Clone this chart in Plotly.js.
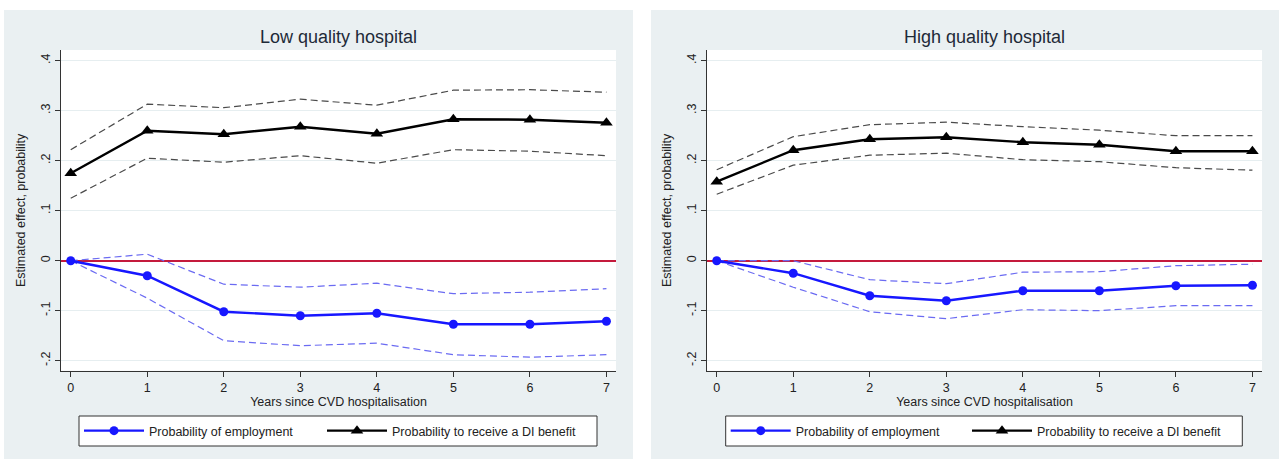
<!DOCTYPE html>
<html>
<head>
<meta charset="utf-8">
<script src="https://cdn.plot.ly/plotly-3.0.1.min.js"></script>
<style>
  html, body { margin: 0; padding: 0; background: #ffffff; }
  #chart { width: 1285px; height: 462px; }
</style>
</head>
<body>
<div id="chart"></div>
<script>
// Years since hospitalisation
const years = [0, 1, 2, 3, 4, 5, 6, 7];

// Low quality hospital: employment effect and 95% bounds
const lowEmp   = [0, -0.030, -0.102, -0.110, -0.105, -0.127, -0.127, -0.121];
const lowEmpHi = [0,  0.013, -0.047, -0.053, -0.045, -0.066, -0.063, -0.056];
const lowEmpLo = [0, -0.075, -0.160, -0.170, -0.165, -0.188, -0.193, -0.188];
// Low quality hospital: DI benefit effect and 95% bounds
const lowDI   = [0.175, 0.260, 0.253, 0.268, 0.254, 0.283, 0.282, 0.276];
const lowDIHi = [0.222, 0.313, 0.306, 0.323, 0.311, 0.341, 0.342, 0.337];
const lowDILo = [0.125, 0.205, 0.197, 0.210, 0.195, 0.222, 0.219, 0.210];

// High quality hospital: employment effect and 95% bounds
const highEmp   = [0, -0.025, -0.070, -0.080, -0.060, -0.060, -0.050, -0.049];
const highEmpHi = [0,  0.000, -0.038, -0.046, -0.023, -0.022, -0.010, -0.007];
const highEmpLo = [0, -0.053, -0.102, -0.116, -0.098, -0.100, -0.090, -0.090];
// High quality hospital: DI benefit effect and 95% bounds
const highDI   = [0.158, 0.221, 0.243, 0.247, 0.237, 0.232, 0.219, 0.219];
const highDIHi = [0.182, 0.248, 0.272, 0.277, 0.268, 0.261, 0.250, 0.250];
const highDILo = [0.133, 0.191, 0.211, 0.215, 0.202, 0.198, 0.186, 0.181];

const panelTitles = ['Low quality hospital', 'High quality hospital'];
const seriesNames = ['Probability of employment', 'Probability to receive a DI benefit'];
const yTickVals = [-0.2, -0.1, 0, 0.1, 0.2, 0.3, 0.4];
const yTickText = ['-.2', '-.1', '0', '.1', '.2', '.3', '.4'];
const xTitle = 'Years since CVD hospitalisation';
const yTitle = 'Estimated effect, probability';

const W = 1285, H = 462;
const FONT = 'Liberation Sans, Arial, Helvetica, sans-serif';
const BLUE = '#1717ff', BLUE_CI = '#6b6bf2', BLACK = '#000000', GREY_CI = '#4a4a4a';
const PANEL_BG = '#eaf0f2', GRID = '#e6eef0', RED = '#c41a3c';
const TXT = '#222222';

const px = v => v / W;
const py = v => (H - v) / H;

// one panel: dashed bounds, then the two estimate lines (each with its own legend)
function panelTraces(emp, empHi, empLo, di, diHi, diLo, xa, ya, legEmp, legDI) {
  const ci = (y, color) => ({
    x: years, y: y, xaxis: xa, yaxis: ya, type: 'scatter', mode: 'lines',
    line: { color: color, width: 1.2, dash: '7px,4px' },
    showlegend: false, hoverinfo: 'skip'
  });
  return [
    ci(empHi, BLUE_CI), ci(empLo, BLUE_CI),
    ci(diHi, GREY_CI), ci(diLo, GREY_CI),
    {
      x: years, y: emp, xaxis: xa, yaxis: ya, type: 'scatter', mode: 'lines+markers',
      name: seriesNames[0], legend: legEmp,
      line: { color: BLUE, width: 2.4 },
      marker: { symbol: 'circle', size: 9, color: BLUE }
    },
    {
      x: years, y: di, xaxis: xa, yaxis: ya, type: 'scatter', mode: 'lines+markers',
      name: seriesNames[1], legend: legDI,
      line: { color: BLACK, width: 2.4 },
      marker: { symbol: 'triangle-up', size: 11, color: BLACK }
    }
  ];
}

const data = [
  ...panelTraces(lowEmp, lowEmpHi, lowEmpLo, lowDI, lowDIHi, lowDILo, 'x', 'y', 'legend', 'legend3'),
  ...panelTraces(highEmp, highEmpHi, highEmpLo, highDI, highDIHi, highDILo, 'x2', 'y2', 'legend2', 'legend4')
];

const xAxisBase = {
  range: [-0.127, 7.125], tickvals: years, ticktext: years.map(String),
  showline: true, linecolor: '#333', linewidth: 1,
  ticks: 'outside', ticklen: 5, tickcolor: '#333', tickwidth: 1,
  showgrid: false, zeroline: false, automargin: false,
  tickfont: { family: FONT, size: 12.5, color: TXT },
  title: { text: xTitle, font: { family: FONT, size: 12.5, color: TXT }, standoff: 2 },
  fixedrange: true
};
const yAxisBase = {
  range: [-0.22, 0.4214], tickvals: yTickVals, ticktext: yTickText, tickangle: -90,
  showline: true, linecolor: '#333', linewidth: 1,
  ticks: 'outside', ticklen: 5, tickcolor: '#333', tickwidth: 1,
  showgrid: true, gridcolor: GRID, gridwidth: 1.5,
  zeroline: true, zerolinecolor: RED, zerolinewidth: 2,
  automargin: false,
  tickfont: { family: FONT, size: 12.5, color: TXT },
  title: { text: yTitle, font: { family: FONT, size: 12.5, color: TXT }, standoff: 10 },
  domain: [py(370.7), py(50)],
  fixedrange: true
};

const legendBase = {
  orientation: 'h', bgcolor: 'rgba(0,0,0,0)', borderwidth: 0,
  font: { family: FONT, size: 12.5, color: TXT },
  itemwidth: 60,
  yanchor: 'top', y: py(416), xanchor: 'left', traceorder: 'normal'
};

// legend frames
const frame = (x0, x1) => ({
  type: 'rect', xref: 'paper', yref: 'paper', x0: px(x0), x1: px(x1), y0: py(446), y1: py(416),
  fillcolor: '#ffffff', line: { color: '#333', width: 1 }, layer: 'below'
});

const layout = {
  width: W, height: H, autosize: false,
  margin: { l: 0, r: 0, t: 0, b: 0, pad: 0 },
  paper_bgcolor: '#ffffff', plot_bgcolor: '#ffffff',
  font: { family: FONT },
  xaxis: Object.assign({}, xAxisBase, { domain: [px(61), px(616)], anchor: 'y' }),
  yaxis: Object.assign({}, yAxisBase, { anchor: 'x' }),
  xaxis2: Object.assign({}, xAxisBase, { domain: [px(707), px(1262)], anchor: 'y2' }),
  yaxis2: Object.assign({}, yAxisBase, { anchor: 'x2' }),
  legend: Object.assign({}, legendBase, { x: px(79) }),
  legend3: Object.assign({}, legendBase, { x: px(322) }),
  legend2: Object.assign({}, legendBase, { x: px(725.7) }),
  legend4: Object.assign({}, legendBase, { x: px(967) }),
  shapes: [
    // panel backgrounds
    { type: 'rect', xref: 'paper', yref: 'paper', x0: px(4), x1: px(633), y0: py(459), y1: py(10),
      fillcolor: PANEL_BG, line: { width: 0 }, layer: 'below' },
    { type: 'rect', xref: 'paper', yref: 'paper', x0: px(651), x1: px(1279), y0: py(459), y1: py(10),
      fillcolor: PANEL_BG, line: { width: 0 }, layer: 'below' },
    // white plot regions
    { type: 'rect', xref: 'paper', yref: 'paper', x0: px(61), x1: px(616), y0: py(370.7), y1: py(50),
      fillcolor: '#ffffff', line: { width: 0 }, layer: 'below' },
    { type: 'rect', xref: 'paper', yref: 'paper', x0: px(707), x1: px(1262), y0: py(370.7), y1: py(50),
      fillcolor: '#ffffff', line: { width: 0 }, layer: 'below' },
    frame(79, 597),
    frame(725.7, 1242.3)
  ],
  annotations: [
    { text: panelTitles[0], xref: 'paper', yref: 'paper', x: px(338.5), y: py(37),
      xanchor: 'center', yanchor: 'middle', showarrow: false,
      font: { family: FONT, size: 18, color: '#1e2a38' } },
    { text: panelTitles[1], xref: 'paper', yref: 'paper', x: px(984.5), y: py(37),
      xanchor: 'center', yanchor: 'middle', showarrow: false,
      font: { family: FONT, size: 18, color: '#1e2a38' } }
  ]
};

Plotly.newPlot('chart', data, layout, { displayModeBar: false, staticPlot: true });
</script>
</body>
</html>
